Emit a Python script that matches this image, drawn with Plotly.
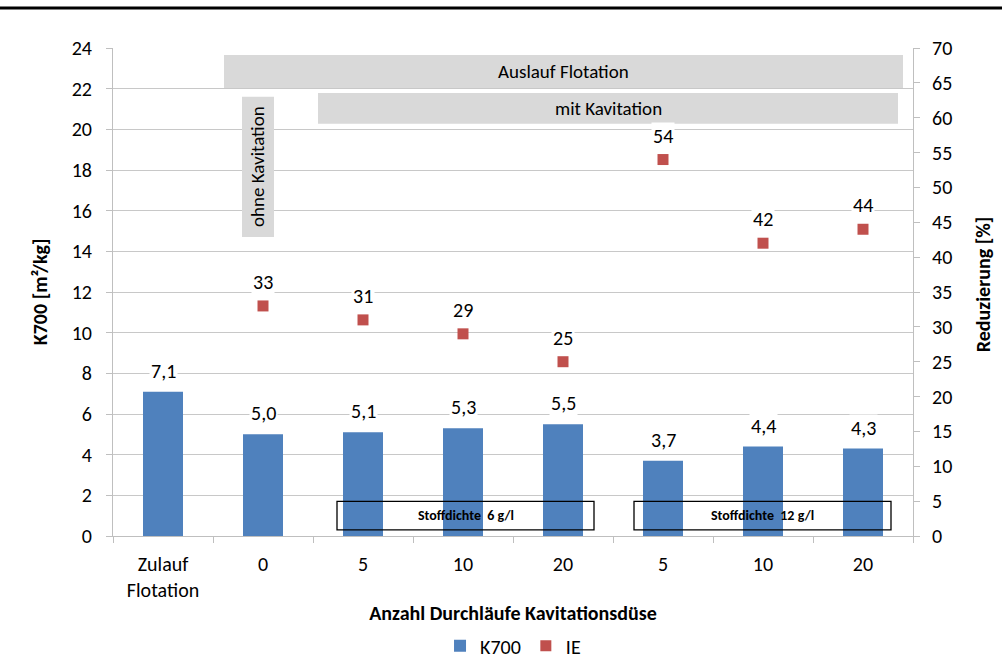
import plotly.graph_objects as go

# Categories along the x axis (index positions keep duplicate labels apart)
categories = ["Zulauf<br>Flotation", "0", "5", "10", "20", "5", "10", "20"]
k700 = [7.1, 5.0, 5.1, 5.3, 5.5, 3.7, 4.4, 4.3]          # m²/kg
ie_positions = [1, 2, 3, 4, 5, 6, 7]
ie = [33, 31, 29, 25, 54, 42, 44]                         # Reduzierung [%]
left_ticks = list(range(0, 25, 2))
right_ticks = list(range(0, 71, 5))

FONT = "Carlito, Lato, 'Open Sans', sans-serif"
x_idx = list(range(len(categories)))

fig = go.Figure()
fig.add_trace(go.Bar(
    x=x_idx, y=k700, name="K700", width=0.4,
    marker=dict(color="#4f81bd", line=dict(width=0)),
))
fig.add_trace(go.Scatter(
    x=ie_positions, y=ie, name="IE", yaxis="y2",
    mode="markers", marker=dict(symbol="square", size=11, color="#c0504d"),
))

shapes = [
    # heavy rule across the top of the page
    dict(type="line", xref="paper", yref="paper", x0=-0.142, x1=1.112, y0=1.082, y1=1.082,
         line=dict(color="#000000", width=3)),
    # grey group banners
    dict(type="rect", xref="x", yref="y", x0=0.61, x1=7.40, y0=22.03, y1=23.66,
         fillcolor="#d9d9d9", line=dict(width=0), layer="above"),
    dict(type="rect", xref="x", yref="y", x0=1.55, x1=7.35, y0=20.27, y1=21.79,
         fillcolor="#d9d9d9", line=dict(width=0), layer="above"),
    dict(type="rect", xref="x", yref="y", x0=0.79, x1=1.11, y0=14.7, y1=21.6,
         fillcolor="#d9d9d9", line=dict(width=0), layer="above"),
    # consistency frames
    dict(type="rect", xref="x", yref="y", x0=1.74, x1=4.31, y0=0.3, y1=1.7,
         fillcolor="rgba(0,0,0,0)", line=dict(color="#000000", width=1.3), layer="above"),
    dict(type="rect", xref="x", yref="y", x0=4.71, x1=7.28, y0=0.3, y1=1.7,
         fillcolor="rgba(0,0,0,0)", line=dict(color="#000000", width=1.3), layer="above"),
]

annotations = [
    dict(x=4.005, y=22.85, xref="x", yref="y", text="Auslauf Flotation", showarrow=False,
         font=dict(size=19, color="#000000")),
    dict(x=4.45, y=21.03, xref="x", yref="y", text="mit Kavitation", showarrow=False,
         font=dict(size=19, color="#000000")),
    dict(x=0.95, y=18.15, xref="x", yref="y", text="ohne Kavitation", showarrow=False,
         textangle=-90, font=dict(size=19, color="#000000")),
    dict(x=3.025, y=1.0, xref="x", yref="y", text="<b>Stoffdichte  6 g/l</b>", showarrow=False,
         font=dict(size=14, color="#000000")),
    dict(x=5.995, y=1.0, xref="x", yref="y", text="<b>Stoffdichte  12 g/l</b>", showarrow=False,
         font=dict(size=14, color="#000000")),
    # axis titles
    dict(x=-0.091, y=0.5, xref="paper", yref="paper", xanchor="center", yanchor="middle",
         text="<b>K700 [m²/kg]</b>", showarrow=False, textangle=-90,
         font=dict(size=20, color="#000000")),
    dict(x=1.087, y=0.515, xref="paper", yref="paper", xanchor="center", yanchor="middle",
         text="<b>Reduzierung [%]</b>", showarrow=False, textangle=-90,
         font=dict(size=20, color="#000000")),
]
# value labels above bars and markers (white box hides the gridlines behind)
for xp, val in zip(x_idx, k700):
    annotations.append(dict(x=xp, y=val, xref="x", yref="y", text=f"{val:.1f}".replace(".", ","),
                            showarrow=False, yshift=21, bgcolor="#ffffff", borderpad=1,
                            font=dict(size=20, color="#000000")))
for xp, val in zip(ie_positions, ie):
    annotations.append(dict(x=xp, y=val, xref="x", yref="y2", text=f"{val:.0f}",
                            showarrow=False, yshift=24, bgcolor="#ffffff", borderpad=1,
                            font=dict(size=20, color="#000000")))

fig.update_layout(
    width=1002, height=661,
    margin=dict(l=113, r=89, t=48, b=125),
    paper_bgcolor="#ffffff", plot_bgcolor="#ffffff",
    font=dict(family=FONT, size=20, color="#000000"),
    separators=",.",
    showlegend=True,
    legend=dict(orientation="h", x=0.512, xref="container", xanchor="center",
                y=0.023, yref="container", yanchor="middle",
                font=dict(size=20), itemwidth=30, tracegroupgap=0),
    xaxis=dict(
        range=[-0.5, 7.5], tickmode="array", tickvals=x_idx, ticktext=categories,
        ticks="", showgrid=False, zeroline=False, automargin=False,
        showline=True, linecolor="#bfbfbf", linewidth=1, ticklabelstandoff=10,
        minor=dict(tickmode="array", tickvals=[i - 0.5 for i in range(9)],
                   ticks="outside", ticklen=6, tickcolor="#bfbfbf", showgrid=False),
        tickfont=dict(size=20),
        title=dict(text="<b>Anzahl Durchläufe Kavitationsdüse</b>", font=dict(size=20), standoff=4),
    ),
    yaxis=dict(
        range=[0, 24], tickvals=left_ticks, ticks="outside", ticklen=6, tickcolor="#bfbfbf",
        showgrid=True, gridcolor="#c8c8c8", gridwidth=1, zeroline=False, automargin=False,
        showline=True, linecolor="#bfbfbf", linewidth=1, ticklabelstandoff=10,
        tickfont=dict(size=20),
    ),
    yaxis2=dict(
        range=[0, 70], tickvals=right_ticks, overlaying="y", side="right",
        ticks="outside", ticklen=6, tickcolor="#bfbfbf", showgrid=False, zeroline=False,
        showline=True, linecolor="#bfbfbf", linewidth=1, automargin=False, ticklabelstandoff=8,
        tickfont=dict(size=20),
    ),
    shapes=shapes,
    annotations=annotations,
    bargap=0.6,
)

fig.write_html("out.html")
